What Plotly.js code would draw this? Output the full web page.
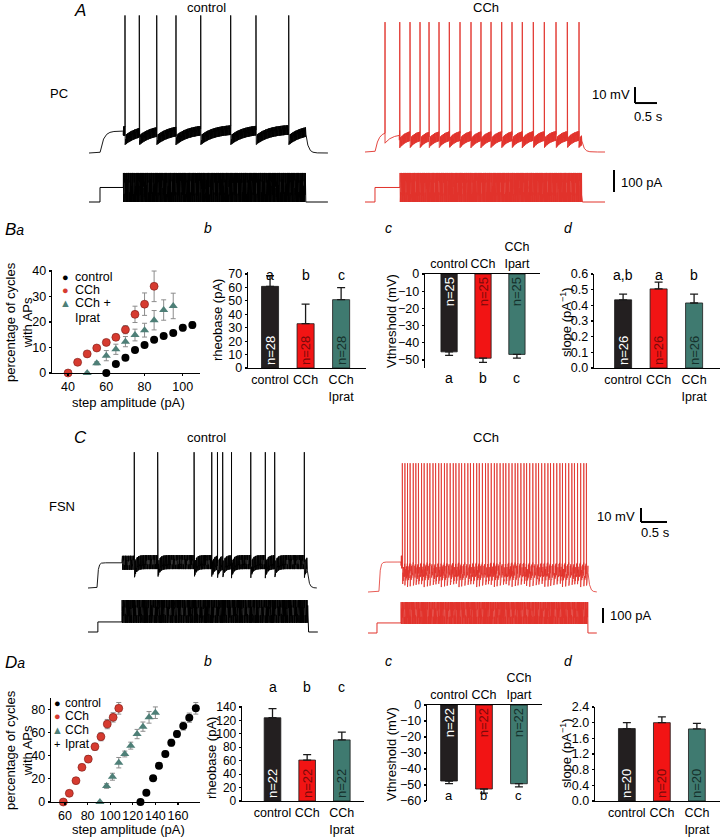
<!DOCTYPE html>
<html>
<head>
<meta charset="utf-8">
<script src="https://cdn.plot.ly/plotly-3.0.1.min.js"></script>
<style>
  html, body { margin: 0; padding: 0; background: #fff; }
  #fig { width: 720px; height: 839px; }
</style>
</head>
<body>
<div id="fig"></div>
<script>
// ---------- values ----------

// spike times (s from start of sweep)
const pcCtrlSpikes = [0.818, 1.143, 1.539, 1.977, 2.539, 3.220, 3.795, 4.539];
const pcCchSpikes = [0.455, 0.79, 1.023, 1.25, 1.455, 1.682, 1.916, 2.159, 2.409, 2.636,
  2.864, 3.107, 3.341, 3.575, 3.825, 4.075, 4.341, 4.598, 4.864];
const fsnCtrlSpikes = [0.89, 1.34, 2.04, 2.38, 2.49, 2.59, 2.76, 3.13, 3.41, 3.59, 4.16];
const fsnCchSpikes = [0.66, 0.71, 0.76, 0.81, 0.87, 0.92, 0.97, 1.03, 1.08, 1.14, 1.19, 1.25,
  1.30, 1.36, 1.41, 1.47, 1.52, 1.58, 1.64, 1.69, 1.75, 1.80, 1.86, 1.92, 1.97, 2.03, 2.09,
  2.14, 2.20, 2.26, 2.31, 2.37, 2.43, 2.48, 2.54, 2.60, 2.65, 2.71, 2.77, 2.83, 2.88, 2.94,
  3.00, 3.05, 3.11, 3.17, 3.23, 3.28, 3.34, 3.40, 3.46, 3.51, 3.57, 3.63, 3.69, 3.74, 3.80,
  3.86, 3.92, 3.97, 4.03, 4.09, 4.15, 4.20];

// Ba: % of cycles with APs vs step amplitude (pA)
const baCtrlX = [60, 65, 70, 75, 80, 85, 90, 95, 100, 105];
const baCtrlY = [0, 3.5, 6, 9, 11, 13, 14.5, 15.7, 17.7, 18.8];
const baCtrlErr = [0.3, 0.5, 0.6, 0.6, 0.7, 0.8, 0.9, 1.0, 1.2, 1.3];
const baCchX = [40, 45, 50, 55, 60, 65, 70, 75, 80, 85];
const baCchY = [0, 4.2, 7.5, 9.8, 12, 14, 17, 23, 27, 34];
const baCchErr = [0.3, 0.5, 0.6, 0.7, 0.9, 1.2, 1.6, 3.2, 4.4, 6.0];
const baIpratX = [50, 55, 60, 65, 70, 75, 80, 85, 90, 95];
const baIpratY = [0, 3.8, 6.8, 9.3, 12.3, 14.9, 16.8, 20.7, 24.7, 26.3];
const baIpratErr = [0.3, 0.6, 2.0, 2.0, 2.0, 2.3, 2.7, 3.8, 4.0, 5.0];

// Da
const daCtrlX = [126.8, 132, 138, 143.2, 148.8, 154.1, 159.1, 164.7, 170, 175.8];
const daCtrlY = [0, 8, 20.4, 31.3, 41.4, 51.1, 58.6, 65.5, 72.7, 80.8];
const daCtrlErr = [0.5, 1.5, 2, 2.5, 2.5, 3, 3, 3.5, 4, 5];
const daCchX = [58.5, 63.8, 69.7, 75, 80.6, 86.5, 91.8, 97.4, 102.6, 107.6];
const daCchY = [0, 7.5, 18.4, 29.9, 37, 47.7, 56.3, 67.2, 73, 80.8];
const daCchErr = [0.5, 1, 1.5, 2.5, 3, 3, 3.5, 4, 4, 5];
const daIpratX = [90.9, 96.8, 102, 107.6, 112.9, 118.2, 123.8, 129, 134.4, 140];
const daIpratY = [0, 13.8, 21.8, 33.9, 41.4, 48.6, 58.6, 65, 73, 77];
const daIpratErr = [0.5, 2, 3, 4.5, 2.5, 3, 4, 4, 5, 5];

// bar panels
const groups = ['control', 'CCh', 'CCh<br>Iprat'];
const groupsTop = ['control', 'CCh', 'CCh<br>Ipart'];
const bRheo = [60.8, 33, 50.9], bRheoErr = [7.9, 14.5, 9];
const bVthr = [-45.3, -49, -46.8], bVthrErr = [2, 2.4, 2.2];
const bSlope = [0.435, 0.505, 0.415], bSlopeErr = [0.037, 0.043, 0.057];
const dRheo = [124, 61, 91], dRheoErr = [13.5, 8, 11.5];
const dVthr = [-47.5, -52.5, -49.2], dVthrErr = [1.6, 2.6, 2];
const dSlope = [1.85, 2.0, 1.84], dSlopeErr = [0.15, 0.15, 0.14];
const bRheoN = ['n=28', 'n=28', 'n=28'];
const bVthrN = ['n=25', 'n=25', 'n=25'];
const bSlopeN = ['n=26', 'n=26', 'n=26'];
const dN = ['n=22', 'n=22', 'n=22'];
const dSlopeN = ['n=20', 'n=20', 'n=20'];
const bRheoSig = ['a', 'b', 'c'], bVthrSig = ['a', 'b', 'c'], bSlopeSig = ['a,b', 'a', 'b'];
const dRheoSig = ['a', 'b', 'c'], dVthrSig = ['a', 'b', 'c'];

// ---------- layout helpers ----------
const W = 720, H = 839;
const FONT = 'Liberation Sans, Arial, Helvetica, sans-serif';
const xd = (a, b) => [a / W, b / W];
const yd = (top, bot) => [1 - bot / H, 1 - top / H];
const xp = p => p / W;
const yp = p => 1 - p / H;

const BLACK = '#000000', RED = '#e1322b';
const barColors = ['#231f20', '#f21414', '#3f7a70'];
const nColors = ['#ffffff', '#7a0a0a', '#15302b'];
const OSC_HZ = 97;

const layout = {
  width: W, height: H,
  margin: { l: 0, r: 0, t: 0, b: 0 },
  paper_bgcolor: '#fff', plot_bgcolor: 'rgba(0,0,0,0)',
  showlegend: false,
  font: { family: FONT, size: 13, color: '#000' },
  annotations: [], shapes: []
};
const data = [];
const ann = layout.annotations, shp = layout.shapes;

const axName = (c, n) => c + 'axis' + (n === 1 ? '' : n);
const ref = (c, n) => c + (n === 1 ? '' : n);

// invisible axes for a recording, scaled in px per second / px per unit
function tracePanel(n, box, pxPerSec, pxPerUnit, zeroRow, zeroVal) {
  const [x0, x1, top, bot] = box;
  layout[axName('x', n)] = { domain: xd(x0, x1), range: [0, (x1 - x0) / pxPerSec],
    visible: false, fixedrange: true, anchor: ref('y', n) };
  layout[axName('y', n)] = { domain: yd(top, bot),
    range: [zeroVal - (bot - zeroRow) / pxPerUnit, zeroVal + (zeroRow - top) / pxPerUnit],
    visible: false, fixedrange: true, anchor: ref('x', n) };
}

function voltage(spikes, p) {
  const t = [], v = [];
  const dt = 0.00025, n = Math.round(p.end / dt);
  let k = 0, last = null, vEnd = p.pre;
  for (let i = 0; i <= n; i++) {
    const ti = i * dt;
    while (k < spikes.length && spikes[k] <= ti) {
      t.push(spikes[k]); v.push(p.peak);
      last = spikes[k]; k++;
    }
    let vi;
    if (ti < p.preOn) vi = p.rest;
    else if (ti < p.stepOff) {
      const env = last === null
        ? p.rest + (p.pre - p.rest) * (1 - Math.exp(-(ti - p.preOn) / p.tauPre))
        : p.trough + (p.top - p.trough) * (1 - Math.exp(-(ti - last) / p.tau));
      vEnd = env;
      vi = env + (ti >= p.stepOn ? p.osc * Math.sin(2 * Math.PI * OSC_HZ * ti) : 0);
    } else {
      vi = p.rest + (vEnd - p.rest) * Math.exp(-(ti - p.stepOff) / p.tauOff);
    }
    t.push(ti); v.push(vi);
  }
  return { t, v };
}

function current(p) {
  const t = [], c = [];
  const dt = 0.00025, n = Math.round(p.end / dt);
  for (let i = 0; i <= n; i++) {
    const ti = i * dt;
    let ci = 0;
    if (ti >= p.preOn && ti < p.stepOn) ci = p.pre;
    else if (ti >= p.stepOn && ti < p.stepOff) ci = p.mid + p.amp * Math.sin(2 * Math.PI * OSC_HZ * (ti - p.stepOn));
    t.push(ti); c.push(ci);
  }
  return { t, c };
}

function addTrace(n, xs, ys, color, w) {
  data.push({ type: 'scatter', mode: 'lines', x: xs, y: ys, xaxis: ref('x', n), yaxis: ref('y', n),
    line: { color: color, width: w }, hoverinfo: 'skip', cliponaxis: false });
}

function txt(x, y, text, o) {
  ann.push(Object.assign({ xref: 'paper', yref: 'paper', x: xp(x), y: yp(y), text: text,
    showarrow: false, xanchor: 'center', yanchor: 'middle',
    font: { family: FONT, size: 13, color: '#000' } }, o || {}));
}

// ---------- A: PC recordings ----------
tracePanel(1, [89, 330, 8, 160], 44, 1.6, 153, -80);
tracePanel(2, [89, 330, 165, 206], 44, 0.22, 202, 0);
tracePanel(3, [365, 670, 8, 160], 44, 1.6, 152, -80);
tracePanel(4, [365, 670, 165, 206], 44, 0.22, 202, 0);

let tr = voltage(pcCtrlSpikes, { rest: -80, preOn: 0.25, stepOn: 0.78, stepOff: 4.925, end: 5.43,
  pre: -66.3, tauPre: 0.08, peak: 6, trough: -72, top: -65, tau: 0.3, osc: 3, tauOff: 0.05 });
addTrace(1, tr.t, tr.v, BLACK, 0.9);
let ci = current({ preOn: 0.25, stepOn: 0.78, stepOff: 4.925, end: 5.43, pre: 66, mid: 66, amp: 66 });
addTrace(2, ci.t, ci.c, BLACK, 1);

tr = voltage(pcCchSpikes, { rest: -80, preOn: 0.227, stepOn: 0.78, stepOff: 4.925, end: 5.455,
  pre: -67.5, tauPre: 0.08, peak: 1.2, trough: -74.5, top: -69, tau: 0.15, osc: 3, tauOff: 0.05 });
addTrace(3, tr.t, tr.v, RED, 0.9);
ci = current({ preOn: 0.227, stepOn: 0.795, stepOff: 4.925, end: 5.455, pre: 66, mid: 66, amp: 66 });
addTrace(4, ci.t, ci.c, RED, 1);

// ---------- C: FSN recordings ----------
tracePanel(9, [88, 320, 440, 600], 52, 1.4, 588, -80);
tracePanel(10, [88, 320, 594, 640], 52, 0.15, 632, 0);
tracePanel(11, [368, 680, 440, 600], 52, 1.4, 592, -80);
tracePanel(12, [368, 680, 594, 640], 52, 0.15, 633, 0);

tr = voltage(fsnCtrlSpikes, { rest: -80, preOn: 0.173, stepOn: 0.654, stepOff: 4.21, end: 4.40,
  pre: -62, tauPre: 0.02, peak: 17, trough: -68, top: -61.5, tau: 0.04, osc: 5, tauOff: 0.03 });
addTrace(9, tr.t, tr.v, BLACK, 0.9);
ci = current({ preOn: 0.19, stepOn: 0.654, stepOff: 4.23, end: 4.42, pre: 67, mid: 137, amp: 76 });
addTrace(10, ci.t, ci.c, BLACK, 1);

tr = voltage(fsnCchSpikes, { rest: -80, preOn: 0.21, stepOn: 0.635, stepOff: 4.23, end: 4.40,
  pre: -58.6, tauPre: 0.02, peak: 12, trough: -72, top: -62, tau: 0.03, osc: 4.5, tauOff: 0.03 });
addTrace(11, tr.t, tr.v, RED, 0.8);
ci = current({ preOn: 0.173, stepOn: 0.635, stepOff: 4.23, end: 4.40, pre: 67, mid: 133, amp: 73 });
addTrace(12, ci.t, ci.c, RED, 1);

// scale bars (drawn in the recordings' own units)
function vbar(n, t, v0, dv) {
  shp.push({ type: 'line', xref: ref('x', n), yref: ref('y', n), x0: t, x1: t, y0: v0, y1: v0 + dv,
    line: { color: '#000', width: 2 } });
}
function hbar(n, t, v0, dt) {
  shp.push({ type: 'line', xref: ref('x', n), yref: ref('y', n), x0: t, x1: t + dt, y0: v0, y1: v0,
    line: { color: '#000', width: 2 } });
}
vbar(3, 6.136, -49.4, 10); hbar(3, 6.136, -49.4, 0.5);
vbar(4, 5.659, 45.5, 100);
vbar(11, 5.25, -30, 10); hbar(11, 5.25, -30, 0.5);
vbar(12, 4.519, 66.7, 100);

txt(632, 94, '10 mV', { xanchor: 'right' });
txt(648, 116, '0.5 s');
txt(619, 182, '100 pA', { xanchor: 'left' });
txt(637, 516, '10 mV', { xanchor: 'right' });
txt(655, 532, '0.5 s');
txt(608, 615, '100 pA', { xanchor: 'left' });

// ---------- axis styles ----------
const tickFont = { family: FONT, size: 12.5, color: '#000' };
function yAxisStyle(o) {
  return Object.assign({ showgrid: false, zeroline: false, showline: true, linecolor: '#000', linewidth: 1.3,
    ticks: 'outside', ticklen: 2, tickwidth: 1.2, tickcolor: '#000', tickfont: tickFont, tickangle: 0,
    fixedrange: true }, o);
}
function xCatStyle(o) {
  return Object.assign({ showgrid: false, zeroline: false, showline: true, linecolor: '#000', linewidth: 1.3,
    ticks: '', tickvals: [0, 1, 2], tickfont: tickFont, tickangle: 0, fixedrange: true }, o);
}

// ---------- scatter panels ----------
function scatter(n, xs, ys, err, marker) {
  data.push({ type: 'scatter', mode: 'markers', x: xs, y: ys, xaxis: ref('x', n), yaxis: ref('y', n),
    marker: marker, cliponaxis: false, hoverinfo: 'skip',
    error_y: { type: 'data', array: err, color: '#8c8c8c', thickness: 1, width: 2.5 } });
}
const mkCtrl = { size: 8, color: BLACK };
const mkCch = { size: 8, color: '#d63b30', line: { color: '#7a1a14', width: 0.6 } };
const mkIprat = { size: 8, symbol: 'triangle-up', color: '#4e7f77' };

// Ba
layout.xaxis5 = yAxisStyle({ domain: xd(52, 200), range: [31.6, 109], tickvals: [40, 60, 80, 100], anchor: 'y5' });
layout.yaxis5 = yAxisStyle({ domain: yd(270, 373), range: [0, 40.4], tickvals: [0, 10, 20, 30, 40], anchor: 'x5' });
scatter(5, baCtrlX, baCtrlY, baCtrlErr, mkCtrl);
scatter(5, baIpratX, baIpratY, baIpratErr, mkIprat);
scatter(5, baCchX, baCchY, baCchErr, mkCch);

// Da
layout.xaxis13 = yAxisStyle({ domain: xd(51, 200), range: [47.6, 179.5], tickvals: [60, 80, 100, 120, 140, 160], anchor: 'y13' });
layout.yaxis13 = yAxisStyle({ domain: yd(698, 802), range: [0, 89.7], tickvals: [0, 20, 40, 60, 80], anchor: 'x13' });
scatter(13, daCtrlX, daCtrlY, daCtrlErr, mkCtrl);
scatter(13, daIpratX, daIpratY, daIpratErr, mkIprat);
scatter(13, daCchX, daCchY, daCchErr, mkCch);

// ---------- bar panels ----------
function bars(n, vals, errs, labels, negative) {
  const none = [0, 0, 0];
  data.push({ type: 'bar', x: [0, 1, 2], y: vals, xaxis: ref('x', n), yaxis: ref('y', n), width: 0.48,
    marker: { color: barColors, line: { color: '#1a1a1a', width: 0.8 } },
    text: labels, textposition: 'inside', insidetextanchor: 'start', textangle: -90, constraintext: 'none',
    insidetextfont: { family: FONT, size: 13, color: nColors }, hoverinfo: 'skip', cliponaxis: false,
    error_y: { type: 'data', symmetric: false, array: negative ? none : errs, arrayminus: negative ? errs : none,
      color: '#1a1a1a', thickness: 1.3, width: 4 } });
}
function sigLetters(n, letters, row, size) {
  letters.forEach((s, i) => ann.push({ xref: ref('x', n), yref: 'paper', x: i, y: yp(row), text: s,
    showarrow: false, font: { family: FONT, size: size || 14, color: '#000' } }));
}

// Bb rheobase
layout.xaxis6 = xCatStyle({ domain: xd(248, 366), range: [-0.62, 2.7], ticktext: groups, anchor: 'y6' });
layout.yaxis6 = yAxisStyle({ domain: yd(272, 368), range: [0, 71.5], tickvals: [0, 10, 20, 30, 40, 50, 60, 70], anchor: 'x6' });
bars(6, bRheo, bRheoErr, bRheoN, false);
sigLetters(6, bRheoSig, 265);

// Bc threshold
layout.xaxis7 = xCatStyle({ domain: xd(425, 540), range: [-0.71, 2.68], ticktext: groupsTop, side: 'top', anchor: 'y7' });
layout.yaxis7 = yAxisStyle({ domain: yd(274, 368), range: [-54.7, 0], tickvals: [-50, -40, -30, -20, -10, 0], anchor: 'x7' });
bars(7, bVthr, bVthrErr, bVthrN, true);
sigLetters(7, bVthrSig, 378);

// Bd slope
layout.xaxis8 = xCatStyle({ domain: xd(594, 720), range: [-0.82, 2.73], ticktext: groups, anchor: 'y8' });
layout.yaxis8 = yAxisStyle({ domain: yd(274, 368), range: [0, 0.6], tickvals: [0, 0.1, 0.2, 0.3, 0.4, 0.5, 0.6], tickformat: '.1f', anchor: 'x8' });
bars(8, bSlope, bSlopeErr, bSlopeN, false);
sigLetters(8, bSlopeSig, 265);

// Db rheobase
layout.xaxis14 = xCatStyle({ domain: xd(242, 364), range: [-0.88, 2.64], ticktext: groups, anchor: 'y14' });
layout.yaxis14 = yAxisStyle({ domain: yd(706, 801), range: [0, 141.5], tickvals: [0, 20, 40, 60, 80, 100, 120, 140],
  tickfont: { family: FONT, size: 12, color: '#000' }, anchor: 'x14' });
bars(14, dRheo, dRheoErr, dN, false);
sigLetters(14, dRheoSig, 697);

// Dc threshold
layout.xaxis15 = xCatStyle({ domain: xd(427, 542), range: [-0.63, 2.66], ticktext: groupsTop, side: 'top', anchor: 'y15' });
layout.yaxis15 = yAxisStyle({ domain: yd(705, 801), range: [-60, 0], tickvals: [-60, -50, -40, -30, -20, -10, 0], anchor: 'x15' });
bars(15, dVthr, dVthrErr, dN, true);
sigLetters(15, dVthrSig, 805, 13);

// Dd slope
layout.xaxis16 = xCatStyle({ domain: xd(595, 720), range: [-0.91, 2.66], ticktext: groups, anchor: 'y16' });
layout.yaxis16 = yAxisStyle({ domain: yd(707, 801), range: [0, 2.4], tickvals: [0, 0.4, 0.8, 1.2, 1.6, 2.0, 2.4], tickformat: '.1f', anchor: 'x16' });
bars(16, dSlope, dSlopeErr, dSlopeN, false);

// ---------- text ----------
const big = { family: FONT, size: 17, color: '#000' };
const small = { family: FONT, size: 14, color: '#000' };
txt(80, 11, '<i>A</i>', { font: big });
txt(207, 8, 'control');
txt(486, 8, 'CCh');
txt(59, 93, 'PC');
txt(3, 229, '<i>B</i><i><span style="font-size:14px">a</span></i>', { xanchor: 'left', font: big });
txt(208, 228, '<i>b</i>', { font: small });
txt(388, 228, '<i>c</i>', { font: small });
txt(568, 228, '<i>d</i>', { font: small });
txt(80, 437, '<i>C</i>', { font: big });
txt(207, 437, 'control');
txt(486, 437, 'CCh');
txt(62, 506, 'FSN');
txt(3, 662, '<i>D</i><i><span style="font-size:14px">a</span></i>', { xanchor: 'left', font: big });
txt(208, 661, '<i>b</i>', { font: small });
txt(388, 661, '<i>c</i>', { font: small });
txt(568, 661, '<i>d</i>', { font: small });

// axis titles
const rot = { textangle: -90 };
txt(19, 322, 'percentage of cycles<br>with APs', rot);
txt(128, 403, 'step amplitude (pA)');
txt(218, 320, 'rheobase (pA)', rot);
txt(391, 321, 'Vthreshold (mV)', rot);
txt(566, 322, 'slope (pA<sup>−1</sup>)', rot);
txt(19, 750, 'percentage of cycles<br>with APs', rot);
txt(128, 829, 'step amplitude (pA)');
txt(211, 758, 'rheobase (pA)', rot);
txt(391, 754, 'Vthreshold (mV)', rot);
txt(566, 753, 'slope (pA<sup>−1</sup>)', rot);

// legends
function legendRow(mx, tx, row, glyph, color, label, size) {
  if (glyph) txt(mx, row, glyph, { font: { family: FONT, size: 11, color: color } });
  txt(tx, row, label, { xanchor: 'left', font: { family: FONT, size: size, color: '#000' } });
}
legendRow(65, 73, 277, '●', BLACK, 'control', 12.5);
legendRow(65, 73, 290, '●', '#d63b30', 'CCh', 12.5);
legendRow(65, 73, 303, '▲', '#4e7f77', 'CCh +', 12.5);
legendRow(65, 73, 318, null, null, 'Iprat', 12.5);
legendRow(57, 63, 703, '●', BLACK, 'control', 12);
legendRow(57, 63, 716, '●', '#d63b30', 'CCh', 12);
legendRow(57, 63, 730, '▲', '#4e7f77', 'CCh', 12);
legendRow(57, 63, 744, '+', BLACK, 'Iprat', 12);

Plotly.newPlot('fig', data, layout, { staticPlot: true, displayModeBar: false });
</script>
</body>
</html>
